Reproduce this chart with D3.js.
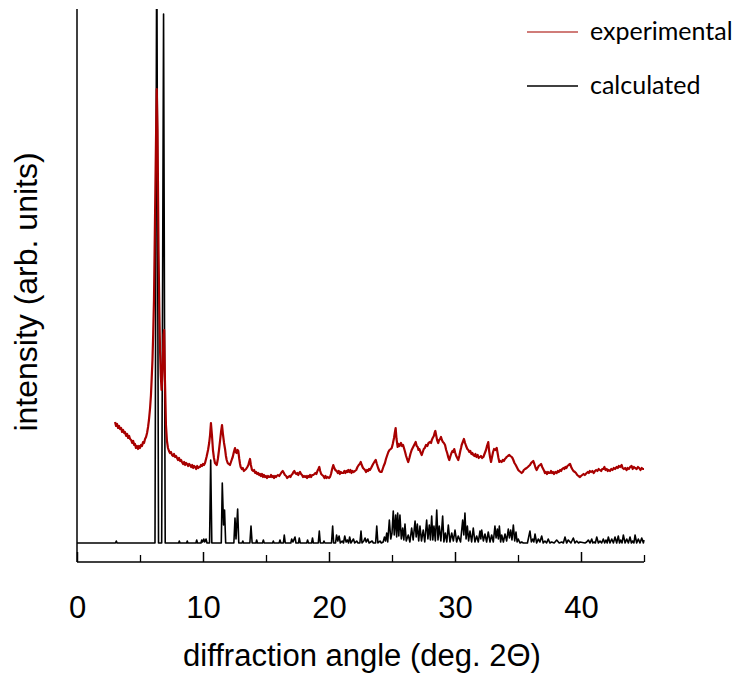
<html>
<head>
<script src="https://d3js.org/d3.v7.min.js"></script>
<style>
  body { margin: 0; background: #fff; }
  .axis text { font-family: "Liberation Sans", Arial, sans-serif; }
</style>
</head>
<body>
<svg id="xrd" width="737" height="673"></svg>
<script>
// experimental pattern [2theta, intensity]
const experimental = [[3.02,121],[3.1,117],[3.18,119],[3.26,115],[3.34,117],[3.41,114],[3.5,115],[3.58,111],[3.66,113],[3.74,110],[3.81,111],[3.9,107],[3.98,109],[4.06,105],[4.14,107],[4.21,104],[4.3,103],[4.38,100],[4.46,102],[4.54,98],[4.6,99],[4.68,95],[4.76,97],[4.84,94],[4.92,97],[5.0,95],[5.08,98],[5.16,97],[5.24,101],[5.32,100],[5.4,104],[5.48,106],[5.56,110],[5.64,116],[5.71,123],[5.8,135],[5.87,148],[5.93,165],[5.99,183],[6.05,210],[6.11,243],[6.19,323],[6.27,403],[6.33,454],[6.39,413],[6.47,293],[6.53,235],[6.59,193],[6.65,168],[6.71,153],[6.79,173],[6.87,208],[6.92,213],[6.98,163],[7.06,118],[7.14,102],[7.22,95],[7.3,92],[7.38,90],[7.46,91],[7.54,88],[7.62,87],[7.7,89],[7.78,86],[7.86,87],[7.94,85],[8.02,83],[8.1,85],[8.18,82],[8.26,83],[8.33,81],[8.42,79],[8.5,81],[8.58,78],[8.66,80],[8.74,79],[8.82,77],[8.9,79],[8.97,78],[9.06,76],[9.14,78],[9.22,75],[9.3,77],[9.38,76],[9.46,74],[9.54,77],[9.62,75],[9.7,76],[9.76,76],[9.84,78],[9.92,77],[10.0,79],[10.08,78],[10.16,80],[10.28,86],[10.4,93],[10.49,100],[10.56,108],[10.63,120],[10.71,108],[10.79,93],[10.87,85],[10.95,80],[11.02,79],[11.09,78],[11.18,84],[11.27,93],[11.36,103],[11.43,111],[11.51,118],[11.59,108],[11.67,100],[11.75,94],[11.82,87],[11.88,83],[11.96,80],[12.04,79],[12.14,78],[12.22,81],[12.3,84],[12.36,86],[12.45,91],[12.54,95],[12.6,91],[12.67,90],[12.74,93],[12.8,92],[12.88,84],[12.94,79],[12.99,76],[13.08,74],[13.16,75],[13.24,72],[13.33,73],[13.42,74],[13.52,76],[13.6,78],[13.66,81],[13.73,84],[13.8,78],[13.89,73],[13.98,72],[14.06,73],[14.14,70],[14.22,71],[14.3,69],[14.38,70],[14.46,68],[14.52,69],[14.6,67],[14.68,69],[14.76,66],[14.84,68],[14.92,66],[15.0,67],[15.08,65],[15.16,67],[15.24,66],[15.32,66],[15.4,68],[15.48,66],[15.56,67],[15.64,65],[15.72,67],[15.8,66],[15.85,67],[15.95,68],[16.05,67],[16.15,69],[16.25,71],[16.33,72],[16.42,70],[16.5,68],[16.6,67],[16.68,65],[16.77,66],[16.86,67],[16.94,66],[17.02,68],[17.1,69],[17.18,71],[17.25,72],[17.32,70],[17.4,69],[17.48,70],[17.56,68],[17.64,70],[17.7,71],[17.78,69],[17.86,68],[17.94,66],[18.02,67],[18.1,66],[18.18,67],[18.26,65],[18.34,67],[18.42,66],[18.5,68],[18.58,66],[18.66,68],[18.75,68],[18.84,69],[18.92,70],[19.0,69],[19.08,72],[19.16,74],[19.23,76],[19.3,72],[19.38,69],[19.46,68],[19.55,67],[19.64,65],[19.72,67],[19.8,65],[19.9,66],[20.0,65],[20.08,66],[20.16,69],[20.25,74],[20.34,78],[20.42,75],[20.5,73],[20.61,72],[20.7,70],[20.78,72],[20.86,69],[20.94,71],[21.02,70],[21.13,70],[21.22,72],[21.3,70],[21.38,72],[21.46,71],[21.53,73],[21.62,71],[21.7,73],[21.78,70],[21.86,72],[21.94,71],[22.06,72],[22.16,73],[22.26,76],[22.36,78],[22.44,79],[22.52,81],[22.6,78],[22.7,75],[22.78,74],[22.86,73],[22.94,71],[23.02,73],[23.1,72],[23.18,74],[23.25,73],[23.34,75],[23.42,77],[23.5,79],[23.6,81],[23.71,83],[23.8,79],[23.9,75],[24.0,72],[24.08,71],[24.18,71],[24.26,74],[24.34,77],[24.44,80],[24.52,84],[24.6,87],[24.71,91],[24.8,93],[24.9,94],[24.98,95],[25.06,99],[25.16,105],[25.22,110],[25.29,115],[25.36,104],[25.45,96],[25.52,99],[25.6,97],[25.71,100],[25.8,97],[25.88,98],[25.95,95],[26.04,91],[26.12,87],[26.2,84],[26.29,81],[26.38,85],[26.46,89],[26.56,93],[26.64,95],[26.72,97],[26.8,99],[26.88,101],[26.96,97],[27.04,96],[27.1,93],[27.17,94],[27.26,91],[27.36,88],[27.44,91],[27.52,94],[27.6,95],[27.7,98],[27.8,97],[27.9,100],[28.02,101],[28.1,100],[28.16,103],[28.23,105],[28.32,107],[28.38,110],[28.44,112],[28.5,108],[28.58,103],[28.67,100],[28.74,103],[28.82,104],[28.89,106],[28.96,103],[29.04,101],[29.12,100],[29.21,98],[29.3,93],[29.38,90],[29.46,86],[29.55,83],[29.64,87],[29.72,90],[29.8,92],[29.88,91],[29.94,94],[30.02,90],[30.1,87],[30.18,85],[30.26,83],[30.34,87],[30.42,92],[30.48,95],[30.53,98],[30.62,101],[30.71,104],[30.8,100],[30.88,97],[30.98,94],[31.06,93],[31.14,91],[31.22,92],[31.3,89],[31.38,90],[31.45,88],[31.54,87],[31.62,89],[31.7,86],[31.8,88],[31.88,85],[31.98,86],[32.06,87],[32.15,85],[32.25,86],[32.34,89],[32.4,91],[32.46,93],[32.54,97],[32.6,99],[32.64,101],[32.7,93],[32.78,86],[32.86,81],[32.94,86],[33.02,91],[33.1,94],[33.2,93],[33.31,95],[33.38,90],[33.45,85],[33.52,81],[33.6,82],[33.7,81],[33.79,83],[33.88,82],[33.96,84],[34.04,85],[34.1,86],[34.2,87],[34.31,88],[34.4,87],[34.5,86],[34.56,85],[34.63,83],[34.72,80],[34.82,78],[34.94,75],[35.02,73],[35.1,72],[35.2,71],[35.29,70],[35.38,71],[35.46,73],[35.56,74],[35.69,75],[35.78,76],[35.86,77],[35.95,78],[36.04,80],[36.12,81],[36.21,82],[36.3,79],[36.4,75],[36.48,73],[36.56,75],[36.64,77],[36.74,78],[36.83,79],[36.92,76],[37.0,74],[37.08,72],[37.14,70],[37.22,71],[37.3,69],[37.38,71],[37.46,70],[37.54,70],[37.62,72],[37.7,70],[37.78,71],[37.86,69],[37.96,71],[38.07,70],[38.16,72],[38.24,71],[38.34,73],[38.42,72],[38.5,74],[38.6,75],[38.68,74],[38.76,76],[38.84,75],[38.92,77],[39.02,78],[39.13,79],[39.22,76],[39.3,74],[39.4,72],[39.52,71],[39.6,70],[39.7,68],[39.8,67],[39.92,66],[40.0,67],[40.1,68],[40.2,69],[40.3,68],[40.45,70],[40.54,71],[40.62,70],[40.7,72],[40.8,71],[40.9,72],[41.0,70],[41.11,72],[41.2,73],[41.3,72],[41.4,74],[41.5,73],[41.6,72],[41.68,74],[41.77,74],[41.86,76],[41.94,73],[42.04,74],[42.12,72],[42.2,73],[42.3,72],[42.4,74],[42.5,73],[42.6,75],[42.7,74],[42.83,76],[42.92,75],[43.0,77],[43.1,76],[43.23,78],[43.3,75],[43.4,74],[43.5,75],[43.62,73],[43.7,75],[43.8,74],[43.9,76],[44.02,77],[44.1,74],[44.2,76],[44.3,75],[44.42,74],[44.52,76],[44.62,75],[44.72,73],[44.82,75],[44.92,74],[45.0,74]];

// calculated pattern [2theta, intensity]
const calculated = [[0,0],[3.05,0],[3.12,2],[3.18,0],[6.19,0],[6.33,620],[6.47,0],[6.72,0],[6.87,529],[7.0,0],[8.07,0],[8.12,2],[8.17,0],[8.7,0],[8.75,2],[8.8,0],[9.44,0],[9.5,3],[9.56,0],[9.84,0],[9.9,3],[9.97,1],[10.06,4],[10.14,1],[10.24,4],[10.32,0],[10.52,0],[10.61,83],[10.7,0],[11.45,0],[11.53,60],[11.63,18],[11.71,33],[11.8,0],[12.45,0],[12.54,25],[12.62,4],[12.75,34],[12.84,0],[13.1,0],[13.16,2],[13.22,0],[13.72,0],[13.81,17],[13.9,0],[14.2,0],[14.26,3],[14.32,0],[14.72,0],[14.79,3],[14.86,0],[15.52,0],[15.58,2],[15.64,0],[16.04,0],[16.11,3],[16.18,0],[16.38,0],[16.45,8],[16.53,0],[16.97,0],[17.04,4],[17.14,1],[17.3,6],[17.38,0],[17.58,0],[17.64,5],[17.72,0],[18.23,0],[18.3,3],[18.37,0],[18.62,0],[18.69,5],[18.76,0],[19.15,0],[19.23,12],[19.31,0],[19.54,0],[19.6,2],[19.67,0],[20.2,0],[20.29,17],[20.37,0],[20.52,0],[20.6,8],[20.7,2],[20.8,7],[20.9,0],[21.05,2],[21.15,0],[21.25,7],[21.36,1],[21.46,3],[21.55,0],[21.64,6],[21.74,0],[21.94,4],[22.04,0],[22.2,2],[22.3,0],[22.45,0],[22.54,12],[22.62,0],[22.76,2],[22.86,5],[22.95,1],[23.08,4],[23.18,0],[23.42,2],[23.52,0],[23.7,0],[23.79,17],[23.88,0],[24.05,2],[24.15,0],[24.3,1],[24.4,6],[24.49,2],[24.58,10],[24.66,1],[24.79,23],[24.9,4],[25.0,10],[25.1,32],[25.18,8],[25.29,28],[25.37,6],[25.45,30],[25.54,7],[25.63,28],[25.74,4],[25.85,15],[25.94,3],[26.03,19],[26.13,2],[26.29,8],[26.42,1],[26.56,15],[26.68,3],[26.83,22],[26.92,6],[27.01,19],[27.12,2],[27.22,17],[27.34,2],[27.48,13],[27.6,1],[27.75,23],[27.85,4],[27.96,18],[28.05,3],[28.15,27],[28.24,3],[28.33,17],[28.44,2],[28.55,33],[28.65,3],[28.75,17],[28.88,2],[29.02,27],[29.12,1],[29.23,10],[29.35,1],[29.47,18],[29.6,1],[29.74,10],[29.87,2],[30.0,13],[30.13,1],[30.26,7],[30.44,1],[30.61,23],[30.7,8],[30.79,30],[30.88,4],[30.98,17],[31.08,2],[31.19,12],[31.32,1],[31.45,15],[31.58,1],[31.72,7],[31.85,1],[31.98,12],[32.05,4],[32.12,13],[32.25,2],[32.38,9],[32.51,1],[32.64,11],[32.78,1],[32.91,8],[33.04,1],[33.17,17],[33.26,5],[33.36,14],[33.44,4],[33.52,17],[33.62,1],[33.71,8],[33.84,1],[33.97,9],[34.1,2],[34.23,14],[34.32,5],[34.42,13],[34.52,3],[34.63,18],[34.74,2],[34.84,11],[34.93,1],[35.02,4],[35.16,0],[35.29,1],[35.42,0],[35.56,0],[35.75,0],[35.95,12],[36.06,1],[36.17,4],[36.26,1],[36.35,9],[36.48,0],[36.61,4],[36.74,1],[36.88,7],[37.0,0],[37.14,2],[37.27,0],[37.4,4],[37.53,0],[37.67,1],[37.87,0],[38.07,3],[38.27,0],[38.47,1],[38.6,0],[38.73,6],[38.86,0],[38.99,3],[39.2,0],[39.39,5],[39.52,0],[39.66,2],[39.8,0],[39.92,1],[40.32,0],[40.45,1],[40.58,3],[40.72,0],[40.85,4],[40.94,0],[41.03,1],[41.14,0],[41.25,6],[41.38,0],[41.51,2],[41.64,0],[41.77,4],[41.88,0],[41.98,3],[42.08,0],[42.17,6],[42.3,0],[42.44,4],[42.57,0],[42.7,6],[42.83,0],[42.96,7],[43.06,0],[43.15,3],[43.26,0],[43.36,8],[43.5,0],[43.63,4],[43.76,0],[43.89,6],[44.0,0],[44.1,2],[44.2,0],[44.29,8],[44.42,0],[44.55,4],[44.68,0],[44.82,5],[44.95,0],[45.0,3]];

const majorTicks = [0, 10, 20, 30, 40];
const minorTicks = [5, 15, 25, 35, 45];
const seriesNames = ["experimental", "calculated"];

const svg = d3.select("#xrd");
const plot = { left: 77, right: 644, top: 9, bottom: 562 };

const xScale = d3.scaleLinear().domain([0, 45]).range([plot.left, plot.right]);
const yScale = d3.scaleLinear().domain([-19, 534]).range([plot.bottom, plot.top]);

svg.append("clipPath").attr("id", "clip")
    .append("rect")
    .attr("x", plot.left).attr("y", plot.top)
    .attr("width", plot.right - plot.left + 2)
    .attr("height", plot.bottom - plot.top);

const line = d3.line()
    .x(d => xScale(d[0]))
    .y(d => yScale(d[1]));

let chartArea = svg.append("g").attr("clip-path", "url(#clip)");

chartArea.append("path")
    .datum(calculated)
    .attr("fill", "none")
    .attr("stroke", "#000")
    .attr("stroke-width", 1.6)
    .attr("stroke-linejoin", "round")
    .attr("d", line);

chartArea.append("path")
    .datum(experimental)
    .attr("fill", "none")
    .attr("stroke", "#a80000")
    .attr("stroke-width", 2.2)
    .attr("stroke-linejoin", "round")
    .attr("d", line);

// x axis with inward ticks
let bottomAxis = d3.axisBottom(xScale).tickValues(majorTicks).tickSize(-10).tickPadding(34)
    .tickFormat(d3.format("d"));
let xAxisG = svg.append("g")
    .attr("class", "axis")
    .attr("transform", `translate(0,${plot.bottom})`)
    .call(bottomAxis);
xAxisG.select(".domain").attr("d", `M${plot.left},0H${plot.right}`).attr("stroke-width", 1.5);
xAxisG.selectAll(".tick line").attr("stroke-width", 1.5);
xAxisG.selectAll(".tick text").attr("font-size", 31).attr("fill", "#000");

let minorAxis = d3.axisBottom(xScale).tickValues(minorTicks).tickSize(-7).tickFormat("");
let minorG = svg.append("g")
    .attr("transform", `translate(0,${plot.bottom})`)
    .call(minorAxis);
minorG.select(".domain").remove();
minorG.selectAll(".tick line").attr("stroke-width", 1.3);

// y axis: plain line
svg.append("line")
    .attr("x1", plot.left).attr("x2", plot.left)
    .attr("y1", plot.top).attr("y2", plot.bottom)
    .attr("stroke", "#000").attr("stroke-width", 1.5);

// axis titles
svg.append("text")
    .attr("x", 362).attr("y", 666)
    .attr("text-anchor", "middle")
    .attr("font-family", "Liberation Sans, Arial, sans-serif")
    .attr("font-size", 31)
    .text("diffraction angle (deg. 2Θ)");

svg.append("text")
    .attr("transform", "translate(37,292) rotate(-90)")
    .attr("text-anchor", "middle")
    .attr("font-family", "Liberation Sans, Arial, sans-serif")
    .attr("font-size", 32)
    .text("intensity (arb. units)");

// legend
const legendColors = ["#c0504d", "#000"];
seriesNames.forEach((name, i) => {
    const ly = 32 + i * 54;
    svg.append("line")
        .attr("x1", 527).attr("x2", 578)
        .attr("y1", ly).attr("y2", ly)
        .attr("stroke", legendColors[i]).attr("stroke-width", 1.3);
    svg.append("text")
        .attr("x", 590).attr("y", ly + 8)
        .attr("font-family", "Lato, sans-serif")
        .attr("font-size", 25)
        .text(name);
});
</script>
</body>
</html>
